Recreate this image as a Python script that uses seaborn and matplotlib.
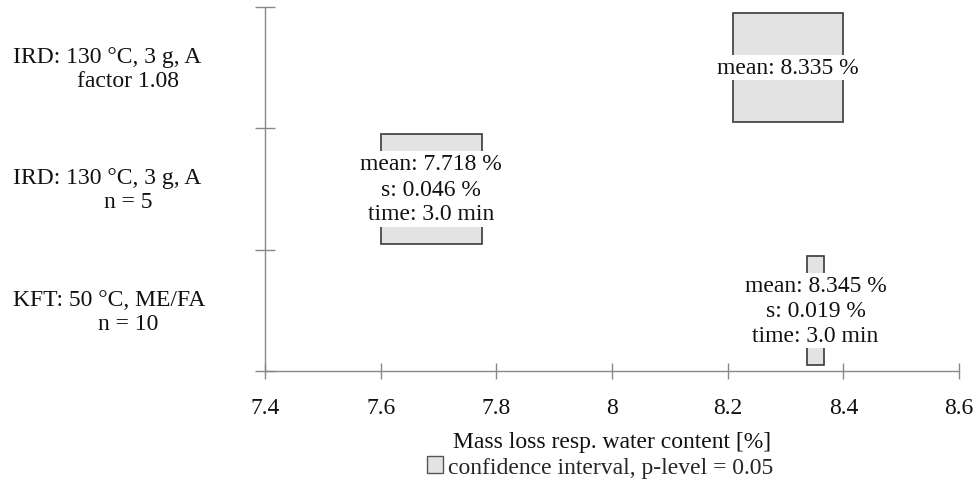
import matplotlib
matplotlib.use("Agg")
import matplotlib.pyplot as plt
import matplotlib.patches as mpatches
import seaborn as sns

# data (top to bottom)
methods = ["IRD: 130 °C, 3 g, A", "IRD: 130 °C, 3 g, A", "KFT: 50 °C, ME/FA"]
method_notes = ["factor 1.08", "n = 5", "n = 10"]
ci_low = [8.210, 7.600, 8.338]
ci_high = [8.399, 7.775, 8.366]
means = [8.335, 7.718, 8.345]
std_devs = [None, 0.046, 0.019]
times = [None, 3.0, 3.0]
xticks = [7.4, 7.6, 7.8, 8.0, 8.2, 8.4, 8.6]
xtick_labels = ["7.4", "7.6", "7.8", "8", "8.2", "8.4", "8.6"]

sns.set_theme(style="white")
plt.rcParams['font.family'] = ['Liberation Serif', 'DejaVu Serif']
FS = 17

fig = plt.figure(figsize=(9.76, 4.85), dpi=100)
ax = fig.add_axes([265 / 976, 1 - 372 / 485, 694 / 976, 364 / 485])

ypos = [2.5, 1.5, 0.5]
widths = [h - l for l, h in zip(ci_low, ci_high)]
ax.barh(ypos, widths, left=ci_low, height=0.9, color="#e3e3e3",
        edgecolor="#3a3a3a", linewidth=1.2, zorder=2)

# text inside each box, white background
for y, l, h, m, s, t in zip(ypos, ci_low, ci_high, means, std_devs, times):
    lines = [f"mean: {m:.3f} %"]
    if s is not None:
        lines.append(f"s: {s:.3f} %")
    if t is not None:
        lines.append(f"time: {t:.1f} min")
    ax.text((l + h) / 2, y, "\n".join(lines), ha="center", va="center",
            fontsize=FS, linespacing=1.25, color="#111111", zorder=3,
            bbox=dict(facecolor="white", edgecolor="none", pad=1.5))

ax.set_xlim(7.4, 8.6)
ax.set_ylim(0, 3)
ax.set_xticks(xticks)
ax.set_xticklabels(xtick_labels)
ax.set_yticks([0, 1, 2, 3])
ax.set_yticklabels([])
ax.tick_params(axis="both", direction="inout", length=14, width=1,
               color="#888888", labelsize=FS, labelcolor="#111111",
               bottom=True, left=True)
ax.tick_params(axis="x", length=12, pad=13)
for side in ["top", "right"]:
    ax.spines[side].set_visible(False)
for side in ["left", "bottom"]:
    ax.spines[side].set_color("#888888")
    ax.spines[side].set_linewidth(1)

ax.set_xlabel("Mass loss resp. water content [%]", fontsize=FS,
              color="#111111", labelpad=9)

# category labels on the left
for y, name, note in zip(ypos, methods, method_notes):
    fy = 1 - (372 - y / 3 * 364) / 485
    fig.text(13 / 976, fy + 11 / 485, name, ha="left", va="center",
             fontsize=FS, color="#111111")
    fig.text(128 / 976, fy - 13 / 485, note, ha="center", va="center",
             fontsize=FS, color="#111111")

handle = mpatches.Patch(facecolor="#e3e3e3", edgecolor="#555555",
                        label="confidence interval, p-level = 0.05")
fig.legend(handles=[handle], loc="center", bbox_to_anchor=(600 / 976, 1 - 468 / 485),
           frameon=False, fontsize=FS, handlelength=0.7, handleheight=0.7,
           handletextpad=0.2, borderpad=0)

fig.savefig("out.png", dpi=100)
